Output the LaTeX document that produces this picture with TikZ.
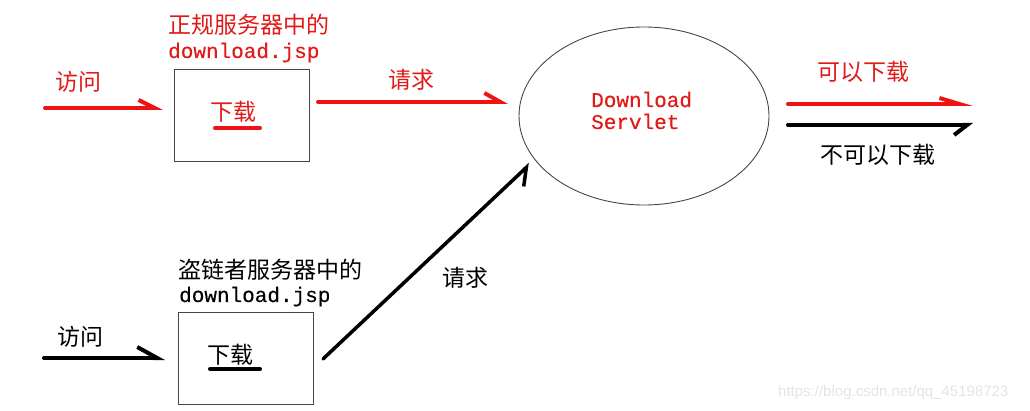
\documentclass[tikz,border=0pt]{standalone}
\usepackage{fontspec}
\setmonofont[FakeBold=0.3]{Liberation Mono}
\newfontfamily\cjk{Noto Sans CJK SC}
\newfontfamily\wmfont{Liberation Sans}
\usetikzlibrary{arrows.meta,shapes.geometric}
\definecolor{myred}{RGB}{238,20,20}
\definecolor{txtred}{RGB}{225,25,25}
\definecolor{wmgray}{RGB}{228,228,228}
\definecolor{boxgray}{RGB}{70,70,70}
\begin{document}
\begin{tikzpicture}[x=1pt,y=-1pt,
  cjktext/.style={inner sep=0pt, anchor=west, font=\cjk\fontsize{23}{25}\selectfont},
  monotext/.style={inner sep=0pt, anchor=base west, font=\ttfamily\fontsize{21}{23}\selectfont},
  boxnode/.style={draw=boxgray, line width=1pt, rectangle, inner sep=0pt},
  conn/.style={line width=4pt, line cap=round},
  ]
\useasboundingbox (0,0) rectangle (1030,411);

% boxes and ellipse
\node[boxnode, minimum width=135pt, minimum height=92pt] (box1) at (241.5,116) {};
\node[boxnode, minimum width=135pt, minimum height=91pt] (box2) at (245.5,358.5) {};
\node[draw=boxgray, line width=0.9pt, ellipse, minimum width=250pt, minimum height=178pt, inner sep=0pt] (servlet) at (644,116) {};

% texts top
\node[cjktext, text=txtred] (t1a) at (168,25) {正规服务器中的};
\node[monotext, text=txtred] (t1b) at (168,58) {download.jsp};
\node[cjktext, text=txtred] (v1) at (55,82) {访问};
\node[cjktext, text=txtred] (d1) at (210,112) {下载};
\node[cjktext, text=txtred] (r1) at (388,80) {请求};
\node[monotext, text=txtred] (s1) at (591,107) {Download};
\node[monotext, text=txtred] (s2) at (591,129) {Servlet};
\node[cjktext, text=txtred] (ok) at (817,72) {可以下载};
\node[cjktext, text=black] (nok) at (820,155) {不可以下载};

% texts bottom
\node[cjktext] (t2a) at (178,270) {盗链者服务器中的};
\node[monotext] (t2b) at (179,302) {download.jsp};
\node[cjktext] (v2) at (57,337) {访问};
\node[cjktext] (d2) at (207,355) {下载};
\node[cjktext] (r2) at (442,278) {请求};

% watermark
\node[inner sep=0pt, anchor=west, text=wmgray, font=\wmfont\fontsize{15}{17}\selectfont] (wm) at (778,393) {https://blog.csdn.net/qq\_45198723};

% coordinates
\coordinate (v1s) at (45,108);  \coordinate (v1e) at (163,108);
\coordinate (r1s) at (318,102); \coordinate (r1e) at (508,102);
\coordinate (oks) at (788,104); \coordinate (oke) at (973,104);
\coordinate (nks) at (788,125); \coordinate (nke) at (973,125);
\coordinate (v2s) at (44,358);  \coordinate (v2e) at (165,358);
\coordinate (r2s) at (323,359); \coordinate (r2e) at (530,164);

% red connectors
\draw[conn, myred, -{Straight Barb[harpoon, length=16pt, width=16pt]}] (v1s) -- (v1e);
\draw[conn, myred, -{Straight Barb[harpoon, length=16pt, width=18pt]}] (r1s) -- (r1e);
\draw[conn, myred, -{Straight Barb[harpoon, length=20pt, width=12pt]}] (oks) -- (oke);
% black connectors
\draw[conn, black, -{Straight Barb[harpoon, swap, length=13pt, width=20pt]}] (nks) -- (nke);
\draw[conn, black, -{Straight Barb[harpoon, length=20pt, width=22pt]}] (v2s) -- (v2e);
\draw[conn, black, line width=3.5pt, -{Straight Barb[harpoon, swap, length=15pt, width=24pt]}] (r2s) -- (r2e);

% underlines
\draw[conn, myred] (215,128) -- (260,128);
\draw[conn, black] (210,369) -- (260,369);
\end{tikzpicture}
\end{document}
